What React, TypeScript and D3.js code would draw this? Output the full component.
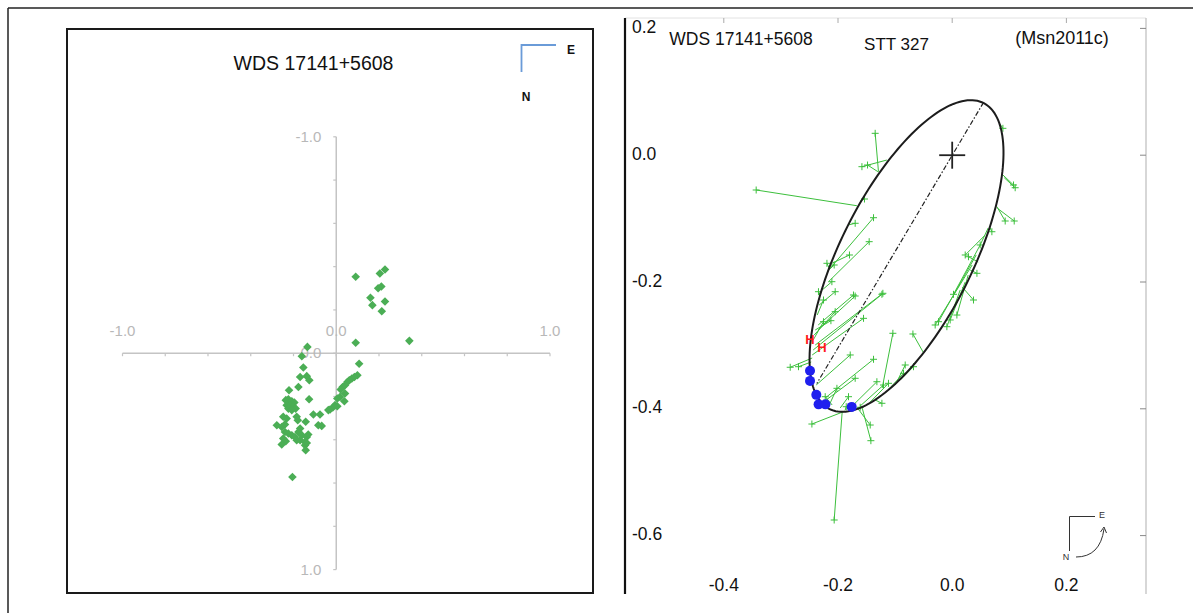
import React from 'react';
import * as d3 from 'd3';

const W = 1193;
const H = 613;
const FONT = '"Liberation Sans", Arial, Helvetica, sans-serif';

// ---------- Left panel data (relative positions, E right / N down) ----------
const leftTickValues = [-1, -0.8, -0.6, -0.4, -0.2, 0, 0.2, 0.4, 0.6, 0.8, 1];
const leftLabelValues = [-1, 0, 1];
const leftPoints: [number, number][] = [
  [0.091, -0.353], [0.204, -0.368], [0.228, -0.387], [0.196, -0.3], [0.211, -0.308],
  [0.16, -0.256], [0.169, -0.222], [0.228, -0.239], [0.213, -0.194], [0.091, -0.048],
  [0.342, -0.057], [-0.135, -0.029], [-0.161, 0.014], [-0.154, 0.066], [-0.169, 0.11],
  [-0.138, 0.106], [-0.126, 0.125], [-0.177, 0.156], [-0.221, 0.171], [-0.127, 0.213],
  [-0.236, 0.217], [-0.224, 0.213], [-0.208, 0.222], [-0.196, 0.228], [-0.232, 0.24],
  [-0.216, 0.244], [-0.201, 0.248], [-0.19, 0.256], [-0.224, 0.256], [-0.208, 0.263],
  [-0.248, 0.294], [-0.232, 0.302], [-0.185, 0.294], [-0.18, 0.31], [-0.107, 0.283],
  [-0.076, 0.283], [-0.278, 0.333], [-0.255, 0.341], [-0.24, 0.329], [-0.143, 0.317],
  [-0.084, 0.333], [-0.068, 0.336], [-0.169, 0.348], [-0.177, 0.364], [-0.24, 0.364],
  [-0.224, 0.371], [-0.208, 0.379], [-0.193, 0.387], [-0.161, 0.379], [-0.138, 0.387],
  [-0.131, 0.376], [-0.248, 0.394], [-0.236, 0.407], [-0.185, 0.402], [-0.169, 0.402],
  [-0.146, 0.41], [-0.255, 0.422], [-0.146, 0.425], [-0.143, 0.448], [-0.205, 0.572],
  [0.107, 0.049], [0.099, 0.102], [0.085, 0.11], [0.073, 0.117], [0.061, 0.125],
  [0.052, 0.133], [0.041, 0.148], [0.03, 0.156], [0.021, 0.168], [0.041, 0.186],
  [0.018, 0.202], [0.005, 0.209], [0.038, 0.222], [-0.006, 0.24], [-0.016, 0.251],
  [-0.029, 0.26], [0.005, 0.245], [-0.037, 0.263], [-0.138, 0.415],
];

// ---------- Right panel data ----------
const rightXTicks = [-0.4, -0.2, 0, 0.2];
const rightYTicks = [0.2, 0, -0.2, -0.4, -0.6];
const orbitCenter: [number, number] = [-0.08, -0.159];
const orbitSemiAxes: [number, number] = [0.2766, 0.113];
const orbitTiltDeg = 59.85;
const apsides: [number, number][] = [[0.055, 0.0834], [-0.237, -0.36]];
// [obsX, obsY, predX, predY]
const residuals: [number, number, number, number][] = [
  [-0.1349, 0.0345, -0.1291, -0.026], [-0.1581, -0.0181, -0.1144, -0.0076],
  [-0.1483, -0.0155, -0.1301, -0.026], [-0.3433, -0.0549, -0.1669, -0.0797],
  [-0.1536, -0.0691, -0.1611, -0.0722], [0.0888, 0.0424, 0.0828, 0.0503],
  [0.1074, -0.047, 0.0888, -0.0312], [0.1103, -0.0513, 0.0911, -0.0355],
  [0.0928, -0.1038, 0.0783, -0.0812], [0.1086, -0.1038, 0.0793, -0.0838],
  [0.0695, -0.1207, 0.0653, -0.1128], [-0.1699, -0.1074, -0.1821, -0.1101],
  [-0.1378, -0.0986, -0.2137, -0.1784], [-0.1454, -0.1364, -0.2166, -0.1995],
  [-0.1799, -0.1574, -0.2107, -0.1705], [-0.2194, -0.1705, -0.2154, -0.1779],
  [-0.2067, -0.1732, -0.2194, -0.1838], [-0.2107, -0.1995, -0.2277, -0.2126],
  [-0.2342, -0.2153, -0.2312, -0.2205], [-0.2049, -0.2153, -0.2329, -0.2363],
  [-0.1699, -0.2221, -0.2347, -0.2757], [-0.1214, -0.2178, -0.2399, -0.2994],
  [-0.2254, -0.2284, -0.2364, -0.2521], [-0.2049, -0.2468, -0.2417, -0.2836],
  [-0.1553, -0.2573, -0.2452, -0.3151], [-0.2254, -0.2626, -0.2434, -0.2915],
  [-0.2124, -0.261, -0.2399, -0.2757], [-0.2837, -0.3345, -0.2452, -0.3199],
  [-0.2692, -0.3336, -0.2469, -0.3262], [-0.1039, -0.2809, -0.1226, -0.3672],
  [-0.0688, -0.282, -0.0503, -0.3115], [-0.1786, -0.3151, -0.2382, -0.3625],
  [-0.1378, -0.3219, -0.2224, -0.383], [-0.1699, -0.3519, -0.2207, -0.3861],
  [-0.2224, -0.3809, -0.2102, -0.394], [-0.2019, -0.3677, -0.2137, -0.3909],
  [-0.1816, -0.3809, -0.1961, -0.3987], [-0.1319, -0.3573, -0.1786, -0.3987],
  [-0.1203, -0.3625, -0.1611, -0.3956], [-0.1116, -0.3598, -0.1436, -0.3893],
  [-0.0823, -0.3309, -0.0998, -0.3625], [-0.0853, -0.344, -0.1173, -0.3751],
  [-0.0678, -0.3336, -0.0911, -0.3546], [-0.1231, -0.3913, -0.1349, -0.3861],
  [-0.1856, -0.3967, -0.1874, -0.4019], [-0.1611, -0.3976, -0.1699, -0.4003],
  [-0.2457, -0.424, -0.1874, -0.4035], [-0.1436, -0.4256, -0.1646, -0.4003],
  [-0.1424, -0.4503, -0.1576, -0.3987], [-0.2067, -0.5754, -0.1926, -0.4035],
  [0.0373, -0.2284, 0.0175, -0.2079], [0.0082, -0.2521, 0.028, -0.189],
  [-0.0035, -0.2599, 0.0228, -0.2], [-0.0093, -0.2705, 0.014, -0.2126],
  [-0.0298, -0.2678, 0.035, -0.1732], [-0.024, -0.2626, 0.042, -0.1574],
  [0.0228, -0.1574, 0.0578, -0.1259], [0.0285, -0.1601, 0.0455, -0.1685],
  [0.049, -0.1416, 0.063, -0.1148], [0.0433, -0.1863, 0.0315, -0.1811],
  [0.0023, -0.2194, 0.049, -0.1416], [-0.1729, -0.2205, -0.2347, -0.2678],
  [-0.1231, -0.2194, -0.2434, -0.3072],
];
const recentObs: [number, number][] = [
  [-0.249, -0.34], [-0.249, -0.356], [-0.238, -0.378], [-0.234, -0.393],
  [-0.222, -0.393], [-0.176, -0.397],
];
const hObs: [number, number][] = [[-0.249, -0.29], [-0.228, -0.304]];

export default function App() {
  // left scales
  const xL = d3.scaleLinear().domain([-1, 1]).range([122.5, 550]);
  const yL = d3.scaleLinear().domain([-1, 1]).range([136.8, 569.6]);
  // right scales
  const xR = d3.scaleLinear().domain([-0.4, 0.2]).range([723.8, 1066.4]);
  const yR = d3.scaleLinear().domain([0.2, -0.6]).range([28.4, 535.6]);
  const f1 = d3.format('.1f');
  const fmt = (v: number) => f1(v).replace('\u2212', '-');

  const th = (orbitTiltDeg * Math.PI) / 180;
  const ellipsePts: [number, number][] = d3.range(0, 361, 2).map((deg) => {
    const t = (deg * Math.PI) / 180;
    const ca = orbitSemiAxes[0] * Math.cos(t);
    const sb = orbitSemiAxes[1] * Math.sin(t);
    return [
      orbitCenter[0] + ca * Math.cos(th) - sb * Math.sin(th),
      orbitCenter[1] + ca * Math.sin(th) + sb * Math.cos(th),
    ];
  });
  const ellipsePath = d3
    .line<[number, number]>()
    .x((d) => xR(d[0]))
    .y((d) => yR(d[1]))
    .curve(d3.curveLinearClosed)(ellipsePts) as string;

  const diamond = 'M0,-4.3L4.3,0L0,4.3L-4.3,0Z';
  const axisGray = '#c4c4c4';
  const green = '#3cbf3c';

  return (
    <svg
      width={W}
      height={H}
      style={{ position: 'absolute', left: 0, top: 0, background: '#fff' }}
      fontFamily={FONT}
    >
      <rect x={0} y={0} width={W} height={H} fill="#fff" />
      {/* outer frame */}
      <line x1={8} y1={8} x2={W} y2={8} stroke="#222" strokeWidth={1.5} />
      <line x1={8} y1={8} x2={8} y2={H} stroke="#222" strokeWidth={1.5} />

      {/* ---------------- Left panel ---------------- */}
      <rect x={67} y={29} width={526} height={564} fill="none" stroke="#1a1a1a" strokeWidth={2} />
      <text x={313.5} y={69.5} fontSize={19.5} textAnchor="middle" fill="#111">
        WDS 17141+5608
      </text>
      <path d="M521.5,72 L521.5,45 L556,45" fill="none" stroke="#6a9bd8" strokeWidth={1.8} />
      <text x={571} y={54} fontSize={12} fontWeight="bold" textAnchor="middle" fill="#111">E</text>
      <text x={526} y={101} fontSize={12} fontWeight="bold" textAnchor="middle" fill="#111">N</text>

      {/* axes */}
      <line x1={xL(-1)} x2={xL(1)} y1={yL(0)} y2={yL(0)} stroke={axisGray} strokeWidth={1.5} />
      <line x1={xL(0)} x2={xL(0)} y1={yL(-1)} y2={yL(1)} stroke={axisGray} strokeWidth={1.5} />
      {leftTickValues.map((v) => (
        <g key={'lt' + v}>
          <line x1={xL(v)} x2={xL(v)} y1={yL(0)} y2={yL(0) + 3} stroke={axisGray} strokeWidth={1.2} />
          <line x1={xL(0) - 3} x2={xL(0)} y1={yL(v)} y2={yL(v)} stroke={axisGray} strokeWidth={1.2} />
        </g>
      ))}
      {leftLabelValues.map((v) => (
        <g key={'ll' + v}>
          <text x={xL(v)} y={yL(0) - 22} dy="0.35em" fontSize={15} textAnchor="middle" fill="#b8b8b8">
            {fmt(v)}
          </text>
          <text x={xL(0) - 15} y={yL(v)} dy="0.35em" fontSize={15} textAnchor="end" fill="#b8b8b8">
            {fmt(v)}
          </text>
        </g>
      ))}
      {leftPoints.map((p, i) => (
        <path key={'lp' + i} d={diamond} transform={`translate(${xL(p[0])},${yL(p[1])})`} fill="#4bae55" />
      ))}

      {/* ---------------- Right panel ---------------- */}
      <line x1={625} x2={1146} y1={18} y2={18} stroke="#e2e2e2" strokeWidth={1} />
      <line x1={1146} x2={1146} y1={18} y2={594} stroke="#bdbdbd" strokeWidth={1.2} />
      <line x1={625} x2={625} y1={18} y2={594} stroke="#111" strokeWidth={2.2} />
      {rightXTicks.map((v) => (
        <g key={'rx' + v}>
          <line x1={xR(v)} x2={xR(v)} y1={18} y2={23} stroke="#aaa" strokeWidth={1} />
          <text x={xR(v)} y={585} dy="0.35em" fontSize={17.5} textAnchor="middle" fill="#111">
            {fmt(v)}
          </text>
        </g>
      ))}
      {rightYTicks.map((v) => (
        <g key={'ry' + v}>
          <line x1={1140} x2={1146} y1={yR(v)} y2={yR(v)} stroke="#888" strokeWidth={1} />
          <text x={632} y={yR(v) - 1.5} dy="0.35em" fontSize={17.5} textAnchor="start" fill="#111">
            {fmt(v)}
          </text>
        </g>
      ))}
      <text x={741} y={45} fontSize={17.5} textAnchor="middle" fill="#111">WDS 17141+5608</text>
      <text x={896.5} y={50} fontSize={17} textAnchor="middle" fill="#111">STT 327</text>
      <text x={1062} y={43.5} fontSize={18} textAnchor="middle" fill="#111">(Msn2011c)</text>

      {/* residual lines */}
      {residuals.map((r, i) => (
        <g key={'rs' + i} stroke={green} strokeWidth={1} fill="none">
          <line x1={xR(r[0])} y1={yR(r[1])} x2={xR(r[2])} y2={yR(r[3])} />
          <line x1={xR(r[0]) - 3.5} x2={xR(r[0]) + 3.5} y1={yR(r[1])} y2={yR(r[1])} />
          <line x1={xR(r[0])} x2={xR(r[0])} y1={yR(r[1]) - 3.5} y2={yR(r[1]) + 3.5} />
        </g>
      ))}

      {/* orbit */}
      <path d={ellipsePath} fill="none" stroke="#1c1c1c" strokeWidth={2} />
      <line
        x1={xR(apsides[0][0])}
        y1={yR(apsides[0][1])}
        x2={xR(apsides[1][0])}
        y2={yR(apsides[1][1])}
        stroke="#222"
        strokeWidth={1.2}
        strokeDasharray="5,2,1.5,2"
      />
      {/* primary */}
      <line x1={xR(0) - 13} x2={xR(0) + 13} y1={yR(0)} y2={yR(0)} stroke="#222" strokeWidth={1.8} />
      <line x1={xR(0)} x2={xR(0)} y1={yR(0) - 13.5} y2={yR(0) + 13.5} stroke="#222" strokeWidth={1.8} />

      {hObs.map((p, i) => (
        <text
          key={'h' + i}
          x={xR(p[0])}
          y={yR(p[1])}
          dy="0.35em"
          fontSize={13}
          fontWeight="bold"
          textAnchor="middle"
          fill="#ff1a1a"
        >
          H
        </text>
      ))}
      {recentObs.map((p, i) => (
        <circle key={'b' + i} cx={xR(p[0])} cy={yR(p[1])} r={5} fill="#1f1fee" />
      ))}

      {/* compass */}
      <path d="M1069.5,551 L1069.5,516.5 L1095,516.5" fill="none" stroke="#333" strokeWidth={1} />
      <text x={1102} y={518} fontSize={9} textAnchor="middle" fill="#333">E</text>
      <text x={1066} y={560} fontSize={9} textAnchor="middle" fill="#333">N</text>
      <path d="M1076,557 Q1100,557 1104,529" fill="none" stroke="#333" strokeWidth={1} />
      <path d="M1100.5,532 L1104,527 L1106.5,533" fill="none" stroke="#333" strokeWidth={1} />
    </svg>
  );
}
